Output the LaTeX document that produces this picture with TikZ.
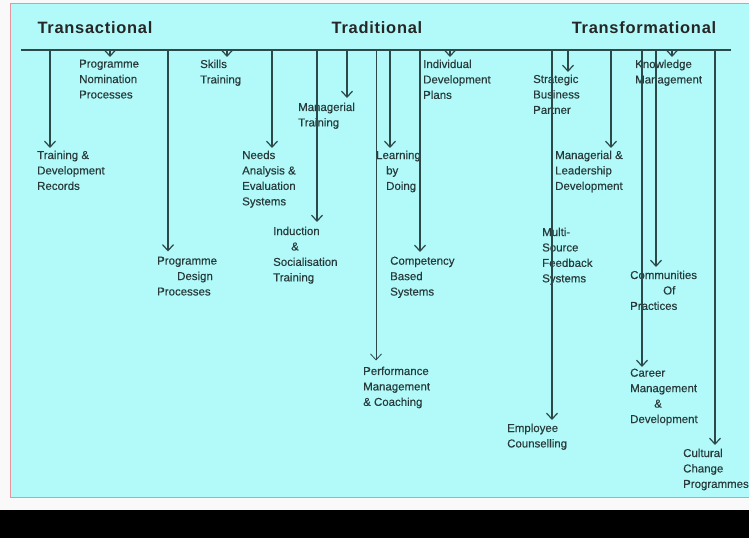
\documentclass[tikz,border=0pt]{standalone}
\usepackage{fontspec}
\setmainfont{Liberation Sans}
\newfontfamily\lblfont[FakeBold=0.35]{Liberation Sans}
\newfontfamily\hdrfont[LetterSpace=4.5]{Liberation Sans}
\usetikzlibrary{arrows.meta}
\definecolor{cyanbg}{RGB}{178,250,250}
\definecolor{inkc}{RGB}{45,72,72}
\definecolor{txtc}{RGB}{40,58,58}
\definecolor{pinkb}{RGB}{228,150,160}
\begin{document}
\begin{tikzpicture}[x=1bp,y=-1bp,
  lbl/.style={anchor=north west, inner sep=0pt, align=left, text=txtc, font=\lblfont\fontsize{11.5}{15.5}\selectfont},
  hdr/.style={inner sep=0pt, text=black!85, font=\hdrfont\bfseries\fontsize{16.5}{18}\selectfont},
  arr/.style={draw=inkc, line width=1.2bp, -{Straight Barb[length=6bp,width=11bp]}},
  arrthin/.style={arr, line width=0.8bp},
  rule/.style={draw=inkc, line width=1.4bp}]
\useasboundingbox (0,0) rectangle (749,538);
\fill[white!95!gray] (0,0) rectangle (749,538);
\path[fill=cyanbg, draw=pinkb, line width=1bp] (10,4) rectangle (760,497);
\fill[black] (0,510) rectangle (749,538);

% headers
\node[hdr] (h1) at (95,28) {Transactional};
\node[hdr] (h2) at (377,28) {Traditional};
\node[hdr] (h3) at (644,28) {Transformational};

% main rule
\coordinate (L) at (21,50);
\coordinate (R) at (731,50);
\draw[rule] (L) -- (R);

% labels
\node[lbl] (rec) at (37,150.5) {Training \&\\Development\\Records};
\node[lbl] (nom) at (79,59.5) {Programme\\Nomination\\Processes};
\node[lbl] (des) at (157,256.5) {Programme\\\hspace*{20bp}Design\\Processes};
\node[lbl] (skl) at (200,59.5) {Skills\\Training};
\node[lbl] (nds) at (242,150.5) {Needs\\Analysis \&\\Evaluation\\Systems};
\node[lbl] (ind) at (273,226.5) {Induction\\\hspace*{18bp}\&\\Socialisation\\Training};
\node[lbl] (mgr) at (298,102.5) {Managerial\\Training};
\node[lbl] (prf) at (363,366.5) {Performance\\Management\\\& Coaching};
\node[lbl] (lrn) at (376,150.5) {Learning\\\hspace*{10bp}by\\\hspace*{10bp}Doing};
\node[lbl] (cmp) at (390,256.5) {Competency\\Based\\Systems};
\node[lbl] (idp) at (423,59.5) {Individual\\Development\\Plans};
\node[lbl] (emp) at (507,423.5) {Employee\\Counselling};
\node[lbl] (sbp) at (533,74.5) {Strategic\\Business\\Partner};
\node[lbl] (mld) at (555,150.5) {Managerial \&\\Leadership\\Development};
\node[lbl] (msf) at (542,227.5) {Multi-\\Source\\Feedback\\Systems};
\node[lbl] (kmg) at (635,59.5) {Knowledge\\Management};
\node[lbl] (cop) at (630,270.5) {Communities\\\hspace*{33bp}Of\\Practices};
\node[lbl] (car) at (630,368.5) {Career\\Management\\\hspace*{24bp}\&\\Development};
\node[lbl] (cul) at (683,448.5) {Cultural\\Change\\Programmes};

% arrow starts on the rule
\coordinate (a1) at (50,50);
\coordinate (a2) at (110,50);
\coordinate (a3) at (168,50);
\coordinate (a4) at (227,50);
\coordinate (a5) at (272,50);
\coordinate (a6) at (317,50);
\coordinate (a7) at (347,50);
\coordinate (a8) at (376,50);
\coordinate (a9) at (390,50);
\coordinate (a10) at (420,50);
\coordinate (a11) at (450,50);
\coordinate (a12) at (552,50);
\coordinate (a13) at (568,50);
\coordinate (a14) at (611,50);
\coordinate (a15) at (642,50);
\coordinate (a16) at (656,50);
\coordinate (a17) at (672,50);
\coordinate (a18) at (715,50);

% arrows
\draw[arr] (a1) -- ([yshift=2.5bp]a1 |- rec.north);
\draw[arr] (a2) -- ([yshift=2.5bp]a2 |- nom.north);
\draw[arr] (a3) -- ([yshift=5bp]a3 |- des.north);
\draw[arr] (a4) -- ([yshift=2.5bp]a4 |- skl.north);
\draw[arr] (a5) -- ([yshift=2.5bp]a5 |- nds.north);
\draw[arr] (a6) -- ([yshift=4.5bp]a6 |- ind.north);
\draw[arr] (a7) -- ([yshift=4.5bp]a7 |- mgr.north);
\draw[arrthin] (a8) -- ([yshift=6bp]a8 |- prf.north);
\draw[arr] (a9) -- ([yshift=2.5bp]a9 |- lrn.north);
\draw[arr] (a10) -- ([yshift=4.5bp]a10 |- cmp.north);
\draw[arr] (a11) -- ([yshift=2.5bp]a11 |- idp.north);
\draw[arr] (a12) -- ([yshift=3.5bp]a12 |- emp.north);
\draw[arr] (a13) -- ([yshift=2.5bp]a13 |- sbp.north);
\draw[arr] (a14) -- ([yshift=2.5bp]a14 |- mld.north);
\draw[arr] (a15) -- ([yshift=1.5bp]a15 |- car.north);
\draw[arr] (a16) -- ([yshift=3.5bp]a16 |- cop.north);
\draw[arr] (a17) -- ([yshift=2.5bp]a17 |- kmg.north);
\draw[arr] (a18) -- ([yshift=3.5bp]a18 |- cul.north);
\end{tikzpicture}
\end{document}
